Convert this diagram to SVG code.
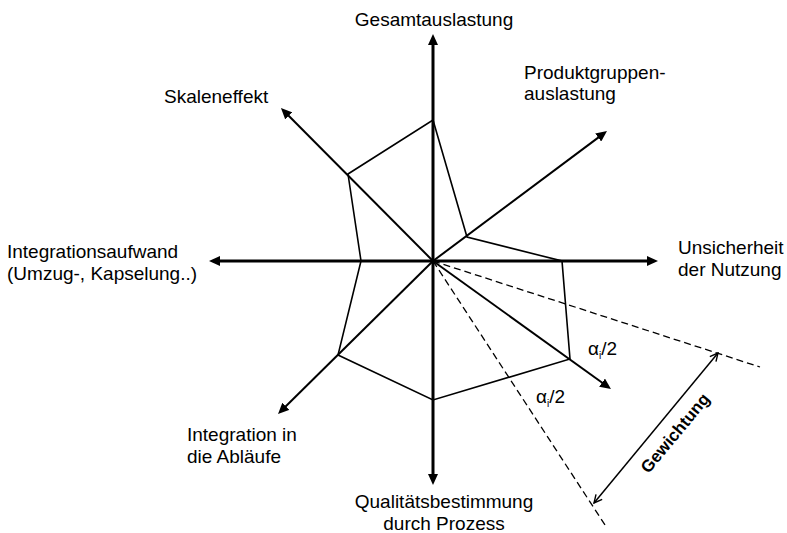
<svg xmlns="http://www.w3.org/2000/svg" width="787" height="533" viewBox="0 0 787 533">
<style>
text{font-family:"Liberation Sans",Arial,sans-serif;font-size:19px;fill:#000}
.main{stroke:#000;stroke-width:3;fill:none}
.diag{stroke:#000;stroke-width:2;fill:none}
.poly{stroke:#000;stroke-width:1.6;fill:none;stroke-linejoin:miter}
.dash{stroke:#000;stroke-width:1.3;fill:none;stroke-dasharray:7 4}
.dim{stroke:#000;stroke-width:1.5;fill:none}
.bold{font-weight:bold;font-size:17px}
</style>
<defs>
<marker id="ah" viewBox="0 0 11 10" refX="5" refY="5" markerWidth="11" markerHeight="10" markerUnits="userSpaceOnUse" orient="auto-start-reverse">
<path d="M0,0 L11,5 L0,10 Z" fill="#000"/>
</marker>
<marker id="open" viewBox="0 0 10 10" refX="9" refY="5" markerWidth="10" markerHeight="10" markerUnits="userSpaceOnUse" orient="auto-start-reverse">
<path d="M1,1 L9,5 L1,9" fill="none" stroke="#000" stroke-width="1.4"/>
</marker>
</defs>
<rect width="787" height="533" fill="#fff"/>
<g id="connectors">
<line class="main" x1="433" y1="40" x2="433" y2="479" marker-start="url(#ah)" marker-end="url(#ah)"/>
<line class="main" x1="215" y1="261" x2="652" y2="261" marker-start="url(#ah)" marker-end="url(#ah)"/>
<line class="diag" x1="433" y1="261" x2="285.2" y2="112.3" marker-end="url(#ah)"/>
<line class="diag" x1="433" y1="261" x2="602.2" y2="134.6" marker-end="url(#ah)"/>
<line class="diag" x1="433" y1="261" x2="282.3" y2="409.8" marker-end="url(#ah)"/>
<line class="diag" x1="433" y1="261" x2="606.1" y2="385.5" marker-end="url(#ah)"/>
<polygon class="poly" points="433,120 467,237 562,261 570,359 433,400 338,355 361,261 348,174"/>
<line class="dash" x1="433" y1="261" x2="760" y2="367"/>
<line class="dash" x1="433" y1="261" x2="607" y2="528"/>
<line class="dim" x1="594" y1="503" x2="718" y2="353" marker-start="url(#open)" marker-end="url(#open)"/>
</g>
<g id="gesamtauslastung"><text x="434" y="26" text-anchor="middle">Gesamtauslastung</text></g>
<g id="produktgruppen"><text x="524" y="78.5">Produktgruppen-</text><text x="524" y="100">auslastung</text></g>
<g id="skaleneffekt"><text x="164" y="103">Skaleneffekt</text></g>
<g id="integrationsaufwand"><text x="7" y="258">Integrationsaufwand</text><text x="7" y="280">(Umzug-, Kapselung..)</text></g>
<g id="unsicherheit"><text x="678" y="254">Unsicherheit</text><text x="678" y="276">der Nutzung</text></g>
<g id="integration-ablaeufe"><text x="187" y="441">Integration in</text><text x="187" y="463">die Abläufe</text></g>
<g id="qualitaet"><text x="444" y="508" text-anchor="middle">Qualitätsbestimmung</text><text x="444" y="530" text-anchor="middle">durch Prozess</text></g>
<g id="alpha1"><text x="588" y="355">α<tspan font-size="10" dy="4">i</tspan><tspan dy="-4">/2</tspan></text></g>
<g id="alpha2"><text x="536" y="403">α<tspan font-size="10" dy="4">i</tspan><tspan dy="-4">/2</tspan></text></g>
<g id="gewichtung"><text class="bold" transform="translate(679.6,436.8) rotate(-50.4)" text-anchor="middle">Gewichtung</text></g>
</svg>
